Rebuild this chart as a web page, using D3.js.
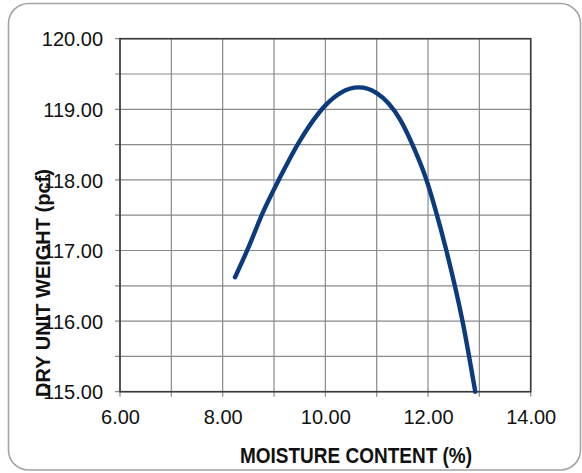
<!DOCTYPE html>
<html><head><meta charset="utf-8">
<script src="https://cdn.jsdelivr.net/npm/d3@7"></script>
<style>
body{margin:0;background:#fff}
svg{display:block}
text{font-family:"Liberation Sans",Arial,Helvetica,sans-serif}
</style></head>
<body><svg id="c" width="582" height="473"></svg>
<script>
// ---- data ----
const moisture = [8.24, 8.50, 8.79, 9.12, 9.50, 10.02, 10.29, 10.65, 11.00, 11.46, 11.72, 11.95, 12.14, 12.35, 12.68, 12.92];
const dryUnitWeight = [116.62, 117.04, 117.55, 118.04, 118.55, 119.07, 119.23, 119.31, 119.23, 118.85, 118.46, 118.04, 117.59, 117.02, 115.97, 115.00];
const xTickValues = [6, 8, 10, 12, 14];
const xTickLabels = ["6.00", "8.00", "10.00", "12.00", "14.00"];
const xGridValues = [6, 7, 8, 9, 10, 11, 12, 13, 14];
const yTickValues = [115, 116, 117, 118, 119, 120];
const yTickLabels = ["115.00", "116.00", "117.00", "118.00", "119.00", "120.00"];
const yGridValues = [115, 115.5, 116, 116.5, 117, 117.5, 118, 118.5, 119, 119.5, 120];
const xTitle = "MOISTURE CONTENT (%)";
const yTitle = "DRY UNIT WEIGHT (pcf)";

// ---- layout ----
const svg = d3.select("#c");
const L = 120, R = 530.7, T = 38.7, B = 391.7;
const x = d3.scaleLinear().domain([6, 14]).range([L, R]);
const y = d3.scaleLinear().domain([115, 120]).range([B, T]);

// outer rounded frame
svg.append("rect").attr("x", 8.5).attr("y", 3.5).attr("width", 572).attr("height", 466.5)
  .attr("rx", 20).attr("fill", "#fff").attr("stroke", "#a3a3a3").attr("stroke-width", 1.6);

// grid
const grid = svg.append("g");
grid.selectAll("line.v").data(xGridValues).join("line").attr("class", "v")
  .attr("x1", d => x(d)).attr("x2", d => x(d)).attr("y1", T).attr("y2", B + 5)
  .attr("stroke", "#8a8a8a").attr("stroke-width", 1.2);
grid.selectAll("line.h").data(yGridValues).join("line").attr("class", "h")
  .attr("y1", d => y(d)).attr("y2", d => y(d)).attr("x1", L - 5).attr("x2", R)
  .attr("stroke", "#8a8a8a").attr("stroke-width", 1.2);

// axes (labels)
const xAxis = d3.axisBottom(x).tickValues(xTickValues)
  .tickFormat((d, i) => xTickLabels[i]).tickSize(0).tickPadding(0);
const gx = svg.append("g").attr("transform", `translate(0,${B})`).call(xAxis);
gx.select(".domain").remove();
gx.selectAll("text").attr("font-size", 20).attr("fill", "#111").attr("dy", null).attr("y", 32);

const yAxis = d3.axisLeft(y).tickValues(yTickValues)
  .tickFormat((d, i) => yTickLabels[i]).tickSize(0).tickPadding(0);
const gy = svg.append("g").attr("transform", `translate(${L - 17},0)`).call(yAxis);
gy.select(".domain").remove();
gy.selectAll("text").attr("font-size", 20).attr("fill", "#111").attr("x", 0).attr("dy", "0.36em");

// plot frame
svg.append("rect").attr("x", L).attr("y", T).attr("width", R - L).attr("height", B - T)
  .attr("fill", "none").attr("stroke", "#3a3a3a").attr("stroke-width", 1.6);

// axis titles
svg.append("text").attr("transform", `translate(356,463) scale(1,1.15)`)
  .attr("text-anchor", "middle").attr("font-size", 19).attr("font-weight", "bold").attr("fill", "#111")
  .text(xTitle);
svg.append("text").attr("transform", `translate(50,283) rotate(-90)`)
  .attr("text-anchor", "middle").attr("font-size", 20).attr("font-weight", "bold").attr("fill", "#111")
  .text(yTitle);

// curve
const pts = moisture.map((m, i) => [m, dryUnitWeight[i]]);
svg.append("path").datum(pts)
  .attr("d", d3.line().x(d => x(d[0])).y(d => y(d[1])).curve(d3.curveMonotoneX))
  .attr("fill", "none").attr("stroke", "#0c3a7e").attr("stroke-width", 4.4).attr("stroke-linecap", "round");
</script></body></html>
